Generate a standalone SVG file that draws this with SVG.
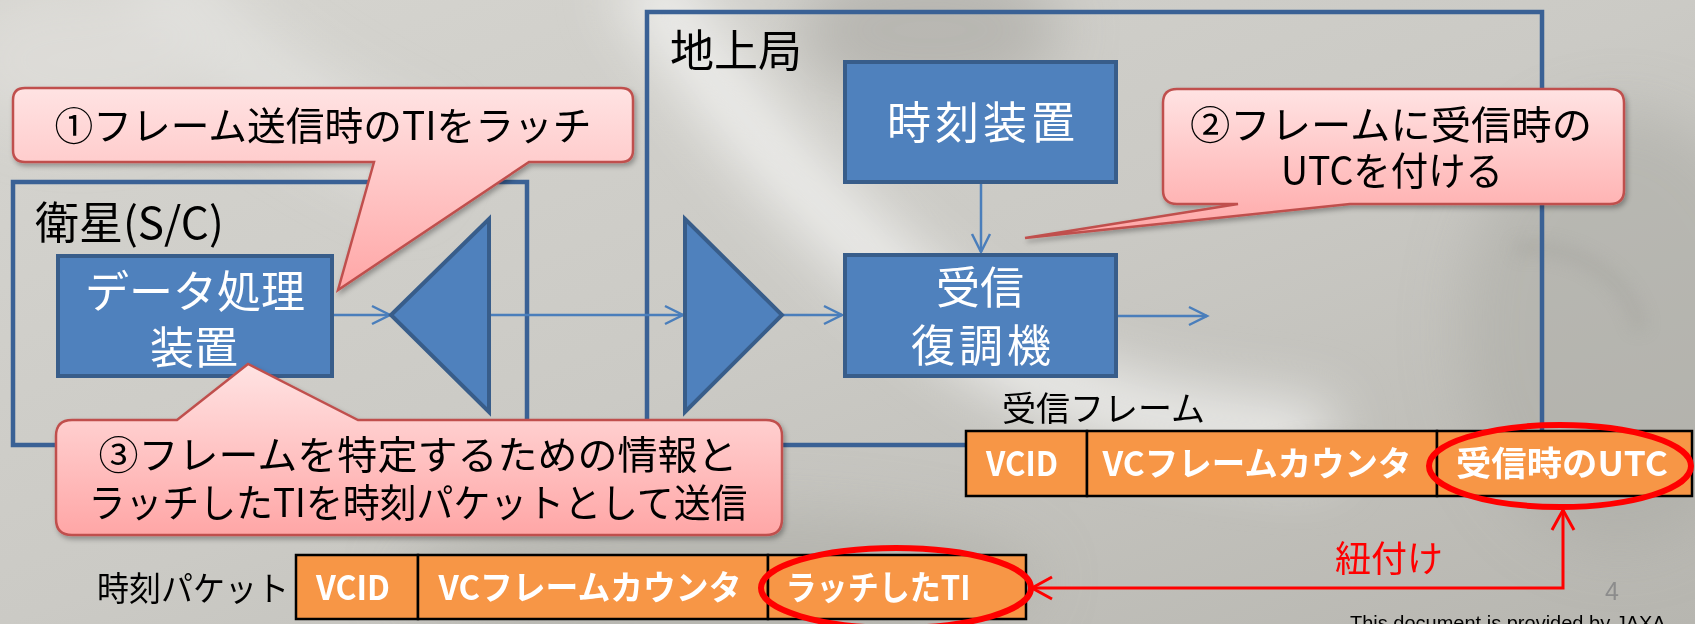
<svg xmlns="http://www.w3.org/2000/svg" width="1695" height="624" viewBox="0 0 1695 624">
  <defs>
    <style>
      .jp { font-family: "Noto Sans CJK JP", "Noto Sans", sans-serif; }
      .container { fill: none; stroke: #3a6195; stroke-width: 4.5; }
      .node { fill: #4f81bd; stroke: #385d8a; stroke-width: 4; stroke-linejoin: miter; }
      .nodeText { font-family: "Noto Sans CJK JP", "Noto Sans", sans-serif; font-size: 44px; fill: #ffffff; text-anchor: middle; }
      .label { font-family: "Noto Sans CJK JP", "Noto Sans", sans-serif; font-size: 44px; fill: #000000; }
      .fieldLabel { font-family: "Noto Sans CJK JP", "Noto Sans", sans-serif; font-size: 34px; fill: #000000; }
      .cell { fill: #f79646; stroke: #000000; stroke-width: 2.5; }
      .cellText { font-family: "Noto Sans CJK JP", "Noto Sans", sans-serif; font-size: 34px; font-weight: bold; fill: #ffffff; text-anchor: middle; }
      .callout { fill: url(#calloutGrad); stroke: #c0504d; stroke-width: 2.5; filter: url(#shadow); }
      .calloutText { font-family: "Noto Sans CJK JP", "Noto Sans", sans-serif; font-size: 39px; fill: #000000; text-anchor: middle; }
      .conn { fill: none; stroke: #4a7ebb; stroke-width: 2.5; marker-end: url(#arrowBlue); }
      .redRing { fill: none; stroke: #ff0000; stroke-width: 6; }
      .redLink { fill: none; stroke: #ff0000; stroke-width: 3; marker-start: url(#arrowRed); marker-end: url(#arrowRed); }
    </style>
    <linearGradient id="bgGrad" x1="0" y1="0" x2="1" y2="1">
      <stop offset="0" stop-color="#d6d5d0"/>
      <stop offset="0.5" stop-color="#cbcac5"/>
      <stop offset="1" stop-color="#b7b6b0"/>
    </linearGradient>
    <linearGradient id="calloutGrad" x1="0" y1="0" x2="0" y2="1">
      <stop offset="0" stop-color="#ffe3e3"/>
      <stop offset="1" stop-color="#ffa6a6"/>
    </linearGradient>
    <filter id="blurBig" x="-50%" y="-50%" width="200%" height="200%">
      <feGaussianBlur stdDeviation="28"/>
    </filter>
    <filter id="blurMid" x="-50%" y="-50%" width="200%" height="200%">
      <feGaussianBlur stdDeviation="8"/>
    </filter>
    <filter id="shadow" x="-10%" y="-10%" width="125%" height="135%">
      <feDropShadow dx="2" dy="3" stdDeviation="2.5" flood-color="#000000" flood-opacity="0.3"/>
    </filter>
    <marker id="arrowBlue" markerUnits="userSpaceOnUse" markerWidth="26" markerHeight="26" viewBox="-22 -13 26 26" refX="0" refY="0" orient="auto">
      <path d="M-18,-9 L0,0 L-18,9" fill="none" stroke="#4a7ebb" stroke-width="2.5"/>
    </marker>
    <marker id="arrowRed" markerUnits="userSpaceOnUse" markerWidth="30" markerHeight="30" viewBox="-25 -15 30 30" refX="0" refY="0" orient="auto-start-reverse">
      <path d="M-20,-11 L0,0 L-20,11" fill="none" stroke="#ff0000" stroke-width="3"/>
    </marker>
  </defs>

  <!-- background -->
  <g id="background">
    <rect x="0" y="0" width="1695" height="624" fill="url(#bgGrad)"/>
    <g filter="url(#blurBig)">
      <ellipse cx="930" cy="30" rx="130" ry="70" fill="#a8a7a1" opacity="0.6"/>
      <ellipse cx="1620" cy="330" rx="160" ry="220" fill="#aaa9a3" opacity="0.5"/>
      <ellipse cx="720" cy="580" rx="320" ry="70" fill="#aeada7" opacity="0.6"/>
      <path d="M640,-30 C720,100 820,220 950,320 S1180,420 1330,440" stroke="#f6f6f4" stroke-width="70" fill="none" opacity="0.75"/>
      <path d="M150,-30 C230,60 320,120 430,170" stroke="#eeeeec" stroke-width="80" fill="none" opacity="0.5"/>
      <ellipse cx="80" cy="60" rx="120" ry="70" fill="#e2e1dd" opacity="0.6"/>
    </g>
    <g filter="url(#blurMid)" fill="none" stroke="#9f9e98" opacity="0.35">
      <path d="M1515,250 C1560,240 1630,270 1640,330" stroke-width="14"/>
      <path d="M1230,470 C1280,430 1360,430 1400,470" stroke-width="10"/>
    </g>
  </g>

  <!-- containers -->
  <g id="satellite">
    <rect class="container" x="13" y="182" width="514" height="263"/>
    <text class="label" x="35" y="239">衛星(S/C)</text>
  </g>
  <g id="ground-station">
    <rect class="container" x="647" y="12" width="895" height="433"/>
    <text class="label" x="670" y="67">地上局</text>
  </g>

  <!-- connectors -->
  <g id="connectors">
    <path class="conn" d="M333,315 H390"/>
    <path class="conn" d="M489,315 H683"/>
    <path class="conn" d="M783,315 H842"/>
    <path class="conn" d="M1118,316 H1207"/>
    <path class="conn" d="M981,184 V252"/>
  </g>

  <!-- nodes -->
  <g id="data-processor">
    <rect class="node" x="58" y="256" width="274" height="120"/>
    <text class="nodeText" x="195" y="308">データ処理</text>
    <text class="nodeText" x="194" y="364">装置</text>
  </g>
  <g id="transmitter">
    <polygon class="node" points="391,315 489,219 489,412"/>
  </g>
  <g id="receiver-antenna">
    <polygon class="node" points="685,219 782,315 685,412"/>
  </g>
  <g id="clock-unit">
    <rect class="node" x="845" y="62" width="271" height="120"/>
    <text class="nodeText" x="981" y="139" textLength="188" lengthAdjust="spacing">時刻装置</text>
  </g>
  <g id="demodulator">
    <rect class="node" x="845" y="255" width="271" height="121"/>
    <text class="nodeText" x="980" y="304">受信</text>
    <text class="nodeText" x="981" y="362" textLength="140" lengthAdjust="spacing">復調機</text>
  </g>

  <!-- received frame -->
  <g id="received-frame">
    <text class="fieldLabel" x="1002" y="421">受信フレーム</text>
    <rect class="cell" x="966" y="431" width="121" height="65"/>
    <rect class="cell" x="1087" y="431" width="350" height="65"/>
    <rect class="cell" x="1437" y="431" width="255" height="65"/>
    <text class="cellText" x="1022" y="476" textLength="72" lengthAdjust="spacingAndGlyphs">VCID</text>
    <text class="cellText" x="1257" y="476" textLength="309" lengthAdjust="spacingAndGlyphs">VCフレームカウンタ</text>
    <text class="cellText" x="1562" y="476" textLength="212" lengthAdjust="spacingAndGlyphs">受信時のUTC</text>
  </g>

  <!-- time packet -->
  <g id="time-packet">
    <text class="fieldLabel" x="97" y="601" textLength="192" lengthAdjust="spacingAndGlyphs">時刻パケット</text>
    <rect class="cell" x="296" y="555" width="122" height="64"/>
    <rect class="cell" x="418" y="555" width="350" height="64"/>
    <rect class="cell" x="768" y="555" width="258" height="64"/>
    <text class="cellText" x="353" y="600" textLength="74" lengthAdjust="spacingAndGlyphs">VCID</text>
    <text class="cellText" x="590" y="600" textLength="303" lengthAdjust="spacingAndGlyphs">VCフレームカウンタ</text>
    <text class="cellText" x="878" y="600" textLength="185" lengthAdjust="spacingAndGlyphs">ラッチしたTI</text>
  </g>

  <!-- red association -->
  <g id="association">
    <ellipse class="redRing" cx="1560" cy="466" rx="131" ry="41"/>
    <ellipse class="redRing" cx="896" cy="588" rx="135" ry="40"/>
    <path class="redLink" d="M1563,510 V588 H1032"/>
    <text class="jp" x="1335" y="572" font-size="36" fill="#ff0000">紐付け</text>
  </g>

  <!-- callouts -->
  <g id="callout-1">
    <path class="callout" d="M25,88 H621 Q633,88 633,100 V150 Q633,162 621,162 H529 L338,290 L374,162 H25 Q13,162 13,150 V100 Q13,88 25,88 Z"/>
    <text class="calloutText" x="323" y="140" textLength="537" lengthAdjust="spacingAndGlyphs">①フレーム送信時のTIをラッチ</text>
  </g>
  <g id="callout-2">
    <path class="callout" d="M1177,89 H1610 Q1624,89 1624,103 V190 Q1624,204 1610,204 H1350 L1025,238 L1238,204 H1177 Q1163,204 1163,190 V103 Q1163,89 1177,89 Z"/>
    <text class="calloutText" x="1391" y="139" textLength="402" lengthAdjust="spacingAndGlyphs">②フレームに受信時の</text>
    <text class="calloutText" x="1392" y="185" textLength="222" lengthAdjust="spacingAndGlyphs">UTCを付ける</text>
  </g>
  <g id="callout-3">
    <path class="callout" d="M72,420 H177 L248,364 L358,420 H766 Q782,420 782,436 V519 Q782,535 766,535 H72 Q56,535 56,519 V436 Q56,420 72,420 Z"/>
    <text class="calloutText" x="418" y="469" textLength="639" lengthAdjust="spacingAndGlyphs">③フレームを特定するための情報と</text>
    <text class="calloutText" x="418" y="517" textLength="659" lengthAdjust="spacingAndGlyphs">ラッチしたTIを時刻パケットとして送信</text>
  </g>

  <!-- page furniture -->
  <g id="footer">
    <text x="1605" y="600" font-family="Liberation Sans, sans-serif" font-size="25" fill="#8c8c8c">4</text>
    <text x="1350" y="630" font-family="Liberation Sans, sans-serif" font-size="20" fill="#000000">This document is provided by JAXA.</text>
  </g>
</svg>
